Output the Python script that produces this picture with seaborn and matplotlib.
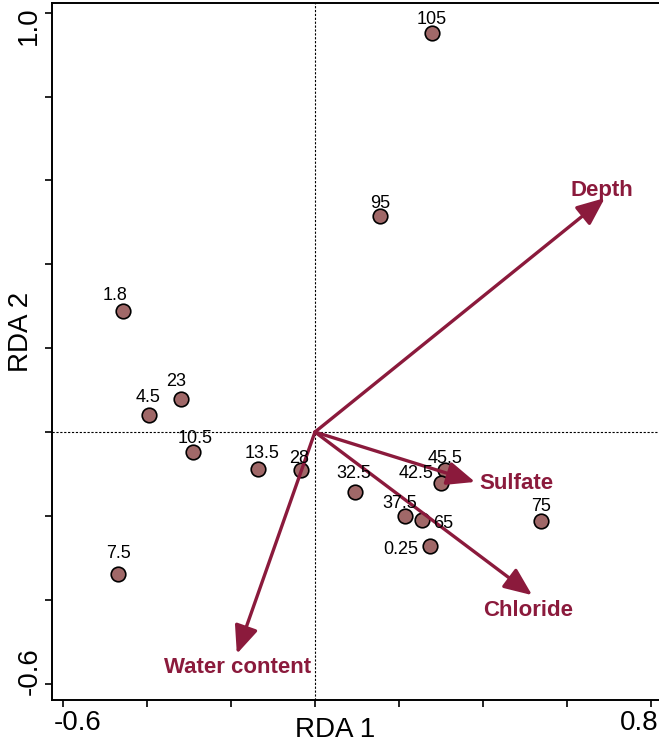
import pandas as pd
import matplotlib
matplotlib.use("Agg")
import matplotlib.pyplot as plt
import matplotlib.transforms as mtransforms
import seaborn as sns

# site scores, labelled by depth
site_labels = ["105", "95", "1.8", "23", "4.5", "10.5", "13.5", "28", "32.5",
               "45.5", "42.5", "37.5", "65", "0.25", "75", "7.5"]
rda1 = [0.279, 0.155, -0.457, -0.319, -0.395, -0.290, -0.136, -0.033, 0.095,
        0.310, 0.300, 0.214, 0.255, 0.274, 0.538, -0.469]
rda2 = [0.951, 0.515, 0.288, 0.079, 0.041, -0.048, -0.088, -0.091, -0.143,
        -0.091, -0.122, -0.200, -0.210, -0.272, -0.212, -0.338]

# environmental variables (arrow tips)
env_names = ["Depth", "Sulfate", "Chloride", "Water content"]
env_rda1 = [0.690, 0.381, 0.517, -0.186]
env_rda2 = [0.558, -0.119, -0.389, -0.529]

df = pd.DataFrame({"RDA1": rda1, "RDA2": rda2, "label": site_labels})

# label offsets in pixels (dx, dy up)
site_offsets = {"105": (0, 14), "95": (0, 13), "1.8": (-8, 16), "23": (-5, 17),
                "4.5": (-1, 17), "10.5": (2, 14), "13.5": (4, 15), "28": (-2, 12),
                "32.5": (-1, 18), "45.5": (0, 12), "42.5": (-25, 10),
                "37.5": (-5, 12), "65": (21, -3), "0.25": (-29, -3),
                "75": (0, 14), "7.5": (1, 20)}
env_offsets = {"Depth": (-3, 8, "center"), "Sulfate": (4, -2, "left"),
               "Chloride": (-4, -15, "center"), "Water content": (1, -14, "center")}

arrow_col = "#8b1a3c"
point_col = "#a06868"

sns.set_style("white")
plt.rcParams["font.family"] = ["Liberation Sans", "DejaVu Sans"]
plt.rcParams["text.color"] = "black"
plt.rcParams["axes.labelcolor"] = "black"
plt.rcParams["xtick.color"] = "black"
plt.rcParams["ytick.color"] = "black"

fig = plt.figure(figsize=(6.59, 7.44), dpi=100)
ax = fig.add_axes([52 / 659, 44 / 744, 607 / 659, 697 / 744])

ax.axhline(0, color="black", lw=0.8, ls=(0, (2, 1.5)), zorder=1)
ax.axvline(0, color="black", lw=0.8, ls=(0, (2, 1.5)), zorder=1)

sns.scatterplot(data=df, x="RDA1", y="RDA2", s=110, color=point_col,
                edgecolor="black", linewidth=1.2, zorder=3, ax=ax, legend=False)

for lab, x, y in zip(site_labels, rda1, rda2):
    dx, dy = site_offsets[lab]
    ax.annotate(lab, (x, y), xytext=(dx, dy), textcoords="offset pixels",
                ha="center", va="center", fontsize=13, zorder=5)

for name, x, y in zip(env_names, env_rda1, env_rda2):
    ax.annotate("", xy=(x, y), xytext=(0, 0),
                arrowprops=dict(arrowstyle="-|>,head_length=1.7,head_width=0.72",
                                lw=2.4, color=arrow_col, shrinkA=0, shrinkB=0,
                                mutation_scale=10), zorder=4)
    dx, dy, ha = env_offsets[name]
    ax.annotate(name, (x, y), xytext=(dx, dy), textcoords="offset pixels",
                ha=ha, va="center", fontsize=16, fontweight="bold",
                color=arrow_col, zorder=5)

ax.set_xlim(-0.626, 0.819)
ax.set_ylim(-0.639, 1.023)

xt = [-0.6, -0.4, -0.2, 0.0, 0.2, 0.4, 0.6, 0.8]
yt = [-0.6, -0.4, -0.2, 0.0, 0.2, 0.4, 0.6, 0.8, 1.0]
ax.set_xticks(xt)
ax.set_xticklabels(["-0.6", "", "", "", "", "", "", "0.8"])
ax.set_yticks(yt)
ax.set_yticklabels(["-0.6", "", "", "", "", "", "", "", "1.0"], rotation=90, va="center")
ax.tick_params(direction="out", length=5, width=1.2, color="black",
               labelsize=20, pad=2, left=True, bottom=True)

for sp in ["left", "bottom", "top"]:
    ax.spines[sp].set_color("black")
    ax.spines[sp].set_linewidth(1.4)
ax.spines["right"].set_visible(False)

ax.set_xlabel("RDA 1", fontsize=20)
ax.set_ylabel("RDA 2", fontsize=20)
ax.xaxis.set_label_coords(0.466, -0.024)
ax.yaxis.set_label_coords(-0.03, 0.528)

# nudge end labels inward like the original
xl = ax.get_xticklabels()
yl = ax.get_yticklabels()
xl[0].set_transform(xl[0].get_transform() + mtransforms.ScaledTranslation(15 / 100, 0, fig.dpi_scale_trans))
xl[-1].set_transform(xl[-1].get_transform() + mtransforms.ScaledTranslation(-12 / 100, 0, fig.dpi_scale_trans))
yl[0].set_transform(yl[0].get_transform() + mtransforms.ScaledTranslation(0, 13 / 100, fig.dpi_scale_trans))
yl[-1].set_transform(yl[-1].get_transform() + mtransforms.ScaledTranslation(0, -13 / 100, fig.dpi_scale_trans))

fig.savefig("out.png", dpi=100)
